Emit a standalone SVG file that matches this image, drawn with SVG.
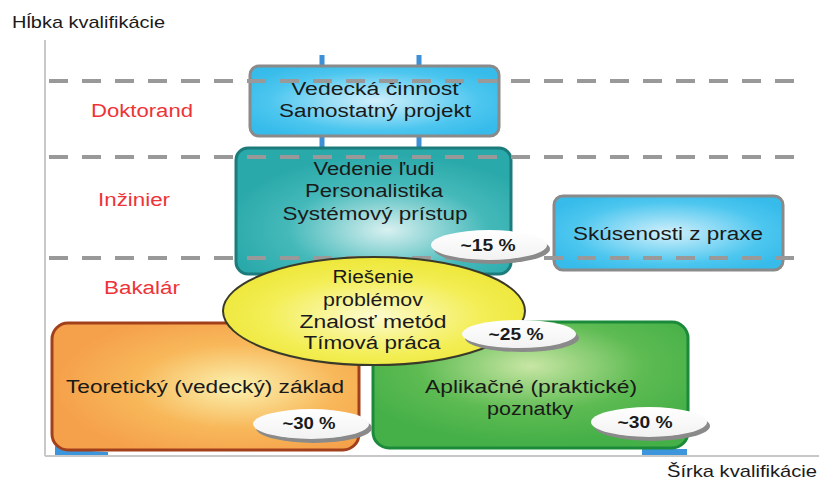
<svg xmlns="http://www.w3.org/2000/svg" width="819" height="481" viewBox="0 0 819 481">
<defs>
<radialGradient id="gBlue" cx="0.5" cy="0.5" r="0.6"><stop offset="0" stop-color="#d2f0fb"/><stop offset="0.7" stop-color="#4cc6ef"/><stop offset="1" stop-color="#36bbea"/></radialGradient>
<radialGradient id="gTeal" cx="0.55" cy="0.65" r="0.6"><stop offset="0" stop-color="#d9f0f0"/><stop offset="0.6" stop-color="#45b9ba"/><stop offset="1" stop-color="#2aa9aa"/></radialGradient>
<radialGradient id="gYellow" cx="0.5" cy="0.55" r="0.6"><stop offset="0" stop-color="#fdfbd0"/><stop offset="0.6" stop-color="#f3ee55"/><stop offset="1" stop-color="#ece532"/></radialGradient>
<radialGradient id="gOrange" cx="0.6" cy="0.5" r="0.6"><stop offset="0" stop-color="#fbf2b0"/><stop offset="0.55" stop-color="#f8b85a"/><stop offset="1" stop-color="#f5a04a"/></radialGradient>
<radialGradient id="gGreen" cx="0.5" cy="0.35" r="0.6"><stop offset="0" stop-color="#c8e6a4"/><stop offset="0.6" stop-color="#5dbb52"/><stop offset="1" stop-color="#46b048"/></radialGradient>
<linearGradient id="gBub" x1="0" y1="0" x2="0" y2="1"><stop offset="0" stop-color="#ffffff"/><stop offset="1" stop-color="#f2f2f2"/></linearGradient>
</defs>
<style>
.lbl{font-family:"Liberation Sans",Arial,sans-serif;font-size:18px;fill:#1a1a1a;text-anchor:middle}
.lvl{font-family:"Liberation Sans",Arial,sans-serif;font-size:18px;fill:#ee3338;text-anchor:middle}
.axt{font-family:"Liberation Sans",Arial,sans-serif;font-size:17px;fill:#1a1a1a}
.pct{font-family:"Liberation Sans",Arial,sans-serif;font-size:16px;font-weight:bold;fill:#1a1a1a;text-anchor:middle}
.dash{stroke:#999999;stroke-width:4;stroke-dasharray:19 14;fill:none}
.blue{stroke:#3d8fd6;stroke-width:5;fill:none}
.bub{fill:url(#gBub)}
.shd{fill:#8a8a8a}
</style>
<rect width="819" height="481" fill="#ffffff"/>
<g id="axes">
<line x1="45" y1="40" x2="45" y2="456" stroke="#c8c8c8" stroke-width="2"/>
<line x1="45" y1="456" x2="819" y2="456" stroke="#c8c8c8" stroke-width="2"/>
<text class="axt" x="12" y="28" textLength="153" lengthAdjust="spacingAndGlyphs">Hĺbka kvalifikácie</text>
<text class="axt" x="667" y="477" textLength="150" lengthAdjust="spacingAndGlyphs">Šírka kvalifikácie</text>
</g>
<g id="background-shape">
<line class="blue" x1="322" y1="55" x2="322" y2="152"/>
<line class="blue" x1="419" y1="55" x2="419" y2="152"/>
<path d="M55 455 L55 446 Q80 451 108 452 L108 455 Z" fill="#3d95dc"/>
<path d="M642 449 L687 449 L687 455 L642 455 Z" fill="#3d95dc"/>
</g>
<g id="levels">
<text class="lvl" x="142" y="117" textLength="102" lengthAdjust="spacingAndGlyphs">Doktorand</text>
<text class="lvl" x="134" y="206" textLength="72" lengthAdjust="spacingAndGlyphs">Inžinier</text>
<text class="lvl" x="142" y="294" textLength="76" lengthAdjust="spacingAndGlyphs">Bakalár</text>
</g>
<g id="node-vedecka">
<rect x="250" y="66" width="249" height="70" rx="9" fill="url(#gBlue)" stroke="#8a8a8a" stroke-width="3"/>
<text class="lbl" x="376" y="95" textLength="170" lengthAdjust="spacingAndGlyphs">Vedecká činnosť</text>
<text class="lbl" x="375" y="117" textLength="192" lengthAdjust="spacingAndGlyphs">Samostatný projekt</text>
</g>
<g id="node-vedenie">
<rect x="236" y="148" width="275" height="126" rx="12" fill="url(#gTeal)" stroke="#1c7c7c" stroke-width="3"/>
<text class="lbl" x="374" y="175" textLength="121" lengthAdjust="spacingAndGlyphs">Vedenie ľudi</text>
<text class="lbl" x="374" y="197" textLength="138" lengthAdjust="spacingAndGlyphs">Personalistika</text>
<text class="lbl" x="375" y="220" textLength="185" lengthAdjust="spacingAndGlyphs">Systémový prístup</text>
</g>
<g id="node-skusenosti">
<rect x="554" y="196" width="229" height="74" rx="9" fill="url(#gBlue)" stroke="#8a8a8a" stroke-width="3"/>
<text class="lbl" x="668" y="240" textLength="190" lengthAdjust="spacingAndGlyphs">Skúsenosti z praxe</text>
</g>
<g id="node-teoreticky">
<rect x="52" y="323" width="307" height="127" rx="16" fill="url(#gOrange)" stroke="#a3401c" stroke-width="3"/>
<text class="lbl" x="205" y="393" textLength="278" lengthAdjust="spacingAndGlyphs">Teoretický (vedecký) základ</text>
</g>
<g id="node-aplikacne">
<rect x="373" y="322" width="315" height="126" rx="16" fill="url(#gGreen)" stroke="#1b8a3a" stroke-width="3"/>
<text class="lbl" x="531" y="393" textLength="212" lengthAdjust="spacingAndGlyphs">Aplikačné (praktické)</text>
<text class="lbl" x="530" y="415" textLength="86" lengthAdjust="spacingAndGlyphs">poznatky</text>
</g>
<g id="dashes">
<line class="dash" x1="49" y1="81" x2="805" y2="81"/>
<line class="dash" x1="49" y1="157" x2="805" y2="157"/>
<line class="dash" x1="49" y1="258" x2="805" y2="258"/>
</g>
<g id="node-riesenie">
<ellipse cx="374" cy="311" rx="151" ry="54" fill="url(#gYellow)" stroke="#3a3a2a" stroke-width="2"/>
<text class="lbl" x="373" y="283" textLength="81" lengthAdjust="spacingAndGlyphs">Riešenie</text>
<text class="lbl" x="373" y="306" textLength="100" lengthAdjust="spacingAndGlyphs">problémov</text>
<text class="lbl" x="373" y="328" textLength="147" lengthAdjust="spacingAndGlyphs">Znalosť metód</text>
<text class="lbl" x="372" y="349" textLength="137" lengthAdjust="spacingAndGlyphs">Tímová práca</text>
</g>
<g id="badges">
<ellipse class="shd" cx="492" cy="249" rx="58" ry="15"/>
<ellipse class="bub" cx="489" cy="245" rx="58" ry="15"/>
<text class="pct" x="488" y="251" textLength="55" lengthAdjust="spacingAndGlyphs">~15 %</text>
<ellipse class="shd" cx="522" cy="338" rx="57" ry="14"/>
<ellipse class="bub" cx="519" cy="334" rx="57" ry="14"/>
<text class="pct" x="516" y="340" textLength="55" lengthAdjust="spacingAndGlyphs">~25 %</text>
<ellipse class="shd" cx="314" cy="428" rx="58" ry="15"/>
<ellipse class="bub" cx="311" cy="424" rx="58" ry="15"/>
<text class="pct" x="309" y="429" textLength="53" lengthAdjust="spacingAndGlyphs">~30 %</text>
<ellipse class="shd" cx="652" cy="426" rx="58" ry="15"/>
<ellipse class="bub" cx="649" cy="422" rx="58" ry="15"/>
<text class="pct" x="645" y="428" textLength="55" lengthAdjust="spacingAndGlyphs">~30 %</text>
</g>
</svg>
